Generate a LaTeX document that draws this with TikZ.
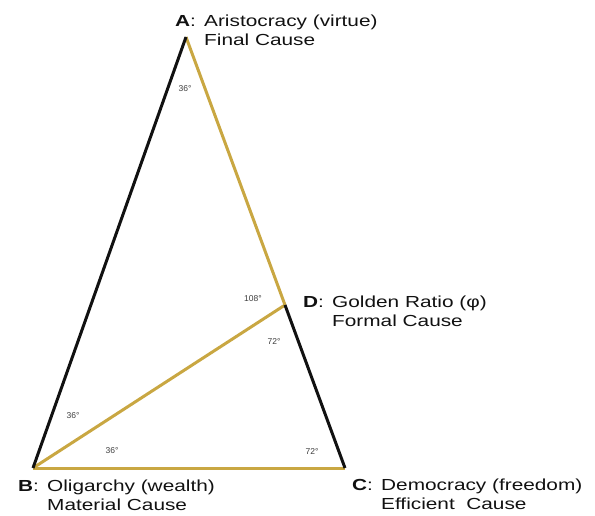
\documentclass[tikz,border=0pt]{standalone}
\usepackage{fontspec}
\setmainfont[FakeStretch=1.3]{Liberation Sans}
\newfontfamily\anglefont{Liberation Sans}
\usepackage{xcolor}
\usepackage{tikz}
\usetikzlibrary{positioning}
\definecolor{gold}{HTML}{C9A742}
\definecolor{ink}{HTML}{111111}
\definecolor{greyink}{HTML}{3C3C3C}
\newcommand{\vertexlabel}[3]{%
  \begin{tabular}[t]{@{}p{29pt}@{}l@{}}\textbf{#1}: & #2\\ & #3\end{tabular}}
\tikzset{
    blackside/.style={draw=ink,line width=3pt},
    goldside/.style={draw=gold,line width=3pt},
    anglelabel/.style={text=greyink,font=\anglefont\fontsize{8.5}{10}\selectfont,
      inner sep=0pt},
    cornertext/.style={anchor=base west,inner sep=0pt,text=ink,
      font=\fontsize{16}{19}\selectfont}
}
\begin{document}
\begin{tikzpicture}[x=1pt,y=-1pt]
  \useasboundingbox (0,0) rectangle (595,515);
  \coordinate (A) at (186,37);
  \coordinate (B) at (33,468);
  \coordinate (C) at (345,468);
  \coordinate (D) at (285,305);

  % sides of the triangle
  \draw[goldside] (A) -- (D);
  \draw[goldside] (B) -- (C);
  \draw[goldside] (B) -- (D);
  \draw[blackside] (A) -- (B);
  \draw[blackside] (D) -- (C);

  % angles
  \node[anglelabel] (angA) at (185,89) {36°};
  \node[anglelabel] (angD) at (253,299) {108°};
  \node[anglelabel] (angDC) at (274,342) {72°};
  \node[anglelabel] (angBA) at (73,416) {36°};
  \node[anglelabel] (angBC) at (112,451) {36°};
  \node[anglelabel] (angC) at (312,452) {72°};

  % corner texts
  \node[cornertext] (labA) at (175,26) {\vertexlabel{A}{Aristocracy (virtue)}{Final Cause}};
  \node[cornertext] (labD) at (303,307) {\vertexlabel{D}{Golden Ratio (φ)}{Formal Cause}};
  \node[cornertext] (labB) at (18,491) {\vertexlabel{B}{Oligarchy (wealth)}{Material Cause}};
  \node[cornertext] (labC) at (352,490) {\vertexlabel{C}{Democracy (freedom)}{Efficient\ \ Cause}};
\end{tikzpicture}
\end{document}
